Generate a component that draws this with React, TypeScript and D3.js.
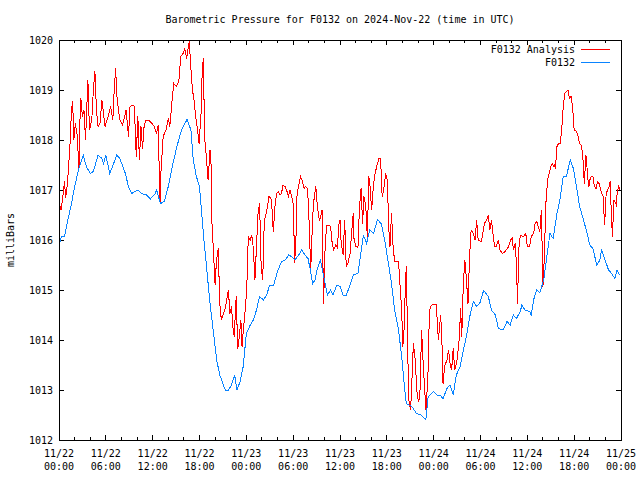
import React from "react";
import * as d3 from "d3";

const title = "Barometric Pressure for F0132 on 2024-Nov-22 (time in UTC)";
const yLabel = "milliBars";
const seriesNames = ["F0132 Analysis", "F0132"];
const seriesColors = ["#ff0000", "#0a84ff"];
const yTicks = [1012, 1013, 1014, 1015, 1016, 1017, 1018, 1019, 1020];
const xTickDates = ["11/22", "11/22", "11/22", "11/22", "11/23", "11/23", "11/23", "11/23", "11/24", "11/24", "11/24", "11/24", "11/25"];
const xTickTimes = ["00:00", "06:00", "12:00", "18:00", "00:00", "06:00", "12:00", "18:00", "00:00", "06:00", "12:00", "18:00", "00:00"];

// [hours since 2024-11-22 00:00 UTC, millibars]
const analysis: [number, number][] = [
  [0, 1016.75], [0.25, 1016.6], [0.4, 1016.75], [0.55, 1016.95], [0.7, 1017.17], [0.85, 1016.85], [1.0, 1017.0], [1.2, 1017.4], [1.4, 1017.87], [1.6, 1018.6], [1.75, 1018.77], [1.9, 1018.0], [2.1, 1018.33], [2.35, 1018.07], [2.55, 1017.4], [2.7, 1018.47], [2.8, 1018.83], [3.0, 1018.47], [3.2, 1018.6], [3.4, 1018.0], [3.7, 1019.2], [3.9, 1018.2], [4.2, 1018.4], [4.4, 1019.0], [4.6, 1019.37], [4.8, 1018.6], [5.0, 1018.27], [5.25, 1018.33], [5.5, 1018.8], [5.9, 1018.27], [6.3, 1018.47], [6.6, 1018.67], [6.9, 1018.4], [7.0, 1018.8], [7.25, 1019.43], [7.45, 1018.8], [7.8, 1018.4], [8.15, 1018.3], [8.6, 1018.6], [8.9, 1018.07], [9.1, 1018.67], [9.45, 1018.7], [9.65, 1018.67], [9.9, 1017.67], [10.1, 1018.47], [10.3, 1017.6], [10.5, 1018.27], [10.7, 1017.83], [10.9, 1018.27], [11.15, 1018.4], [11.45, 1018.4], [11.9, 1018.33], [12.2, 1018.27], [12.5, 1018.13], [12.7, 1018.3], [12.95, 1016.73], [13.05, 1017.33], [13.35, 1018.07], [13.7, 1018.2], [14.0, 1018.43], [14.2, 1018.27], [14.55, 1018.9], [14.7, 1019.13], [15.05, 1019.07], [15.35, 1019.17], [15.6, 1019.67], [15.9, 1019.73], [16.1, 1019.83], [16.35, 1019.63], [16.5, 1019.8], [16.7, 1019.97], [16.85, 1019.53], [17.1, 1019.0], [17.3, 1018.8], [17.5, 1018.47], [17.75, 1018.2], [17.95, 1017.93], [18.2, 1018.53], [18.35, 1019.4], [18.5, 1019.63], [18.65, 1018.07], [18.8, 1017.8], [19.0, 1017.4], [19.1, 1017.2], [19.35, 1017.8], [19.5, 1017.47], [19.6, 1016.33], [19.8, 1015.73], [20.0, 1015.1], [20.15, 1015.53], [20.3, 1015.73], [20.4, 1015.83], [20.6, 1014.73], [20.8, 1014.4], [21.0, 1014.5], [21.3, 1014.63], [21.6, 1014.9], [21.7, 1015.0], [21.9, 1014.53], [22.1, 1014.67], [22.3, 1014.23], [22.45, 1014.07], [22.7, 1014.87], [22.9, 1013.83], [23.1, 1014.07], [23.3, 1014.4], [23.45, 1013.87], [23.6, 1014.17], [23.8, 1014.5], [24.05, 1015.0], [24.25, 1016.07], [24.5, 1016.0], [24.7, 1016.1], [24.9, 1015.83], [25.1, 1015.2], [25.3, 1015.87], [25.5, 1016.53], [25.7, 1016.73], [25.9, 1015.47], [26.1, 1015.2], [26.3, 1016.4], [26.5, 1016.5], [26.7, 1016.67], [26.9, 1016.87], [27.15, 1016.83], [27.3, 1016.6], [27.45, 1016.17], [27.7, 1016.73], [27.9, 1016.93], [28.1, 1016.97], [28.3, 1016.9], [28.5, 1016.93], [28.7, 1017.1], [28.95, 1017.07], [29.15, 1017.0], [29.4, 1016.87], [29.6, 1017.0], [29.8, 1016.87], [30.0, 1016.73], [30.2, 1015.55], [30.4, 1016.2], [30.5, 1016.93], [30.75, 1017.13], [30.95, 1017.27], [31.2, 1017.17], [31.4, 1017.03], [31.6, 1017.07], [31.85, 1017.03], [32.05, 1016.33], [32.25, 1015.4], [32.5, 1016.47], [32.7, 1016.87], [32.9, 1017.07], [33.1, 1016.67], [33.35, 1016.4], [33.5, 1016.45], [33.7, 1016.6], [33.9, 1014.73], [34.1, 1015.9], [34.3, 1016.3], [34.6, 1016.3], [34.8, 1016.27], [35.0, 1015.93], [35.2, 1015.8], [35.45, 1015.9], [35.65, 1015.85], [35.9, 1016.37], [36.0, 1016.4], [36.15, 1015.93], [36.4, 1015.7], [36.6, 1016.4], [36.8, 1015.47], [37.0, 1015.53], [37.3, 1015.73], [37.5, 1016.17], [37.7, 1016.53], [37.8, 1016.0], [38.05, 1015.87], [38.3, 1015.85], [38.5, 1016.67], [38.7, 1017.03], [38.9, 1016.33], [39.06, 1016.87], [39.3, 1016.67], [39.5, 1016.07], [39.7, 1017.27], [39.85, 1017.07], [40.05, 1016.6], [40.3, 1017.13], [40.5, 1017.33], [40.7, 1017.47], [41.0, 1017.63], [41.2, 1017.63], [41.4, 1016.87], [41.6, 1017.0], [41.85, 1017.33], [42.05, 1017.2], [42.3, 1016.07], [42.4, 1015.87], [42.6, 1016.53], [42.8, 1015.87], [43.0, 1015.57], [43.5, 1015.57], [43.7, 1015.07], [43.9, 1014.6], [44.05, 1013.87], [44.2, 1014.2], [44.4, 1015.2], [44.5, 1015.47], [44.7, 1013.6], [44.85, 1012.73], [45.05, 1012.6], [45.2, 1013.13], [45.4, 1013.93], [45.6, 1013.67], [45.75, 1013.27], [45.9, 1012.87], [46.1, 1012.77], [46.25, 1013.0], [46.45, 1014.2], [46.7, 1013.4], [46.9, 1012.87], [47.0, 1012.6], [47.25, 1013.2], [47.4, 1014.2], [47.55, 1014.67], [48.0, 1014.72], [48.3, 1014.72], [48.4, 1014.53], [48.6, 1014.0], [48.8, 1014.33], [48.9, 1014.5], [49.1, 1013.8], [49.2, 1013.13], [49.4, 1013.47], [49.7, 1013.6], [49.9, 1013.8], [50.1, 1013.53], [50.3, 1013.4], [50.5, 1013.83], [50.7, 1013.4], [51.0, 1013.6], [51.3, 1014.07], [51.45, 1014.63], [51.6, 1014.07], [51.8, 1015.13], [52.0, 1015.6], [52.2, 1015.2], [52.4, 1014.73], [52.6, 1015.67], [52.8, 1016.2], [53.1, 1016.13], [53.3, 1016.0], [53.5, 1016.4], [53.7, 1016.0], [53.9, 1015.98], [54.1, 1015.97], [54.3, 1016.13], [54.5, 1016.33], [54.8, 1016.4], [55.0, 1016.5], [55.2, 1016.2], [55.4, 1016.4], [55.6, 1016.13], [55.8, 1015.87], [56.0, 1015.87], [56.3, 1016.0], [56.5, 1015.8], [56.8, 1015.73], [57.0, 1015.75], [57.3, 1015.8], [57.6, 1015.87], [57.85, 1016.0], [58.1, 1016.05], [58.2, 1015.8], [58.45, 1015.93], [58.6, 1015.53], [58.75, 1014.73], [58.9, 1015.8], [59.1, 1016.1], [59.5, 1016.07], [59.8, 1016.13], [60.0, 1015.87], [60.3, 1015.87], [60.5, 1016.07], [60.8, 1016.13], [61.0, 1016.33], [61.2, 1016.37], [61.4, 1016.27], [61.6, 1016.17], [61.8, 1016.6], [62.0, 1015.07], [62.1, 1015.33], [62.4, 1016.8], [62.6, 1017.2], [62.8, 1017.33], [63.0, 1017.47], [63.2, 1017.53], [63.4, 1017.47], [63.5, 1017.5], [63.6, 1017.43], [63.8, 1017.87], [64.0, 1017.93], [64.2, 1017.93], [64.4, 1018.2], [64.6, 1018.67], [64.8, 1018.93], [65.0, 1018.97], [65.2, 1019.0], [65.4, 1018.83], [65.6, 1018.87], [65.8, 1018.67], [66.0, 1018.2], [66.3, 1018.17], [66.5, 1018.07], [66.7, 1017.93], [66.9, 1017.9], [67.1, 1017.7], [67.3, 1017.13], [67.5, 1017.7], [67.6, 1017.6], [67.7, 1017.27], [67.9, 1017.07], [68.0, 1017.2], [68.2, 1017.27], [68.4, 1017.27], [68.6, 1017.07], [68.8, 1017.03], [69.0, 1017.17], [69.2, 1017.13], [69.4, 1017.0], [69.7, 1016.87], [69.8, 1016.6], [69.9, 1016.3], [70.1, 1016.93], [70.3, 1017.0], [70.5, 1017.07], [70.6, 1017.17], [70.8, 1016.4], [70.9, 1016.07], [71.1, 1016.8], [71.4, 1016.7], [71.5, 1016.93], [71.7, 1017.07], [71.85, 1017.0],
];

const observed: [number, number][] = [
  [0, 1015.87], [0.3, 1016.07], [0.7, 1016.07], [1.0, 1016.3], [1.6, 1016.73], [2.0, 1017.07], [2.5, 1017.4], [3.1, 1017.7], [3.5, 1017.47], [4.0, 1017.33], [4.4, 1017.37], [5.0, 1017.7], [5.5, 1017.63], [5.7, 1017.53], [6.0, 1017.7], [6.5, 1017.33], [7.0, 1017.53], [7.4, 1017.7], [7.8, 1017.63], [8.5, 1017.33], [8.9, 1017.07], [9.3, 1016.93], [10.1, 1017.0], [10.6, 1016.93], [11.2, 1016.9], [11.7, 1016.82], [12.3, 1016.92], [12.5, 1017.0], [13.0, 1016.73], [13.5, 1016.77], [14.0, 1017.07], [14.6, 1017.53], [15.1, 1017.87], [15.7, 1018.2], [16.4, 1018.41], [16.9, 1018.2], [17.2, 1017.6], [17.6, 1017.27], [18.0, 1017.07], [18.3, 1016.5], [18.6, 1015.95], [18.9, 1015.47], [19.3, 1014.8], [19.8, 1014.13], [20.2, 1013.6], [20.6, 1013.3], [21.3, 1013.0], [21.7, 1013.0], [22.1, 1013.1], [22.5, 1013.3], [22.8, 1013.0], [23.2, 1013.17], [23.6, 1013.47], [24.0, 1014.13], [24.5, 1014.3], [24.9, 1014.4], [25.3, 1014.6], [25.7, 1014.87], [26.2, 1014.8], [26.6, 1014.9], [27.0, 1015.1], [27.5, 1015.1], [28.0, 1015.37], [28.5, 1015.57], [29.0, 1015.6], [29.4, 1015.7], [29.8, 1015.67], [30.2, 1015.6], [30.7, 1015.7], [31.1, 1015.8], [31.5, 1015.7], [31.9, 1015.63], [32.2, 1015.4], [32.5, 1015.13], [32.8, 1015.2], [33.1, 1015.43], [33.5, 1015.6], [33.9, 1015.27], [34.4, 1014.9], [34.8, 1015.0], [35.1, 1014.9], [35.6, 1015.1], [36.0, 1015.07], [36.4, 1014.9], [36.8, 1014.9], [37.3, 1015.1], [37.7, 1015.3], [38.3, 1015.33], [38.6, 1015.67], [39.0, 1016.1], [39.4, 1015.93], [39.8, 1016.2], [40.3, 1016.13], [40.8, 1016.41], [41.3, 1016.32], [41.8, 1015.93], [42.2, 1015.53], [42.6, 1015.13], [43.0, 1014.6], [43.5, 1014.2], [43.9, 1013.67], [44.3, 1013.0], [44.5, 1012.73], [45.2, 1012.67], [45.8, 1012.53], [46.4, 1012.5], [47.0, 1012.4], [47.3, 1012.87], [48.0, 1012.97], [48.4, 1012.9], [48.8, 1012.9], [49.2, 1012.83], [49.7, 1013.03], [50.1, 1013.1], [50.5, 1012.9], [50.9, 1013.3], [51.4, 1013.47], [51.8, 1013.8], [52.2, 1014.07], [52.7, 1014.53], [53.1, 1014.77], [53.5, 1014.67], [53.9, 1014.73], [54.4, 1014.99], [55.0, 1014.87], [55.4, 1014.6], [55.9, 1014.5], [56.3, 1014.23], [56.9, 1014.2], [57.4, 1014.37], [57.8, 1014.3], [58.2, 1014.5], [58.6, 1014.43], [59.1, 1014.57], [59.3, 1014.7], [59.7, 1014.6], [60.3, 1014.57], [60.5, 1014.5], [60.8, 1014.8], [61.2, 1015.0], [61.6, 1014.95], [62.1, 1015.2], [62.5, 1015.67], [62.9, 1016.13], [63.3, 1016.03], [63.8, 1016.53], [64.2, 1016.83], [64.6, 1017.27], [65.0, 1017.27], [65.5, 1017.6], [65.9, 1017.43], [66.3, 1017.07], [66.7, 1016.67], [67.2, 1016.4], [67.6, 1016.17], [68.0, 1015.9], [68.4, 1015.83], [68.9, 1015.5], [69.3, 1015.6], [69.5, 1015.8], [69.9, 1015.63], [70.4, 1015.4], [70.8, 1015.33], [71.2, 1015.23], [71.5, 1015.4], [71.8, 1015.3],
];

const W = 640;
const H = 480;
const M = { left: 59, right: 621, top: 40, bottom: 440 };
const FONT = "'DejaVu Sans Mono', 'Liberation Mono', monospace";

export default function App() {
  const start = new Date(Date.UTC(2024, 10, 22, 0, 0));
  const end = new Date(Date.UTC(2024, 10, 25, 0, 0));
  const x = d3.scaleUtc().domain([start, end]).range([M.left, M.right]);
  const y = d3.scaleLinear().domain([1012, 1020]).range([M.bottom, M.top]);
  const toDate = (h: number) => new Date(start.getTime() + h * 3600 * 1000);

  const line = d3
    .line<[number, number]>()
    .x((d) => x(toDate(d[0])))
    .y((d) => y(d[1]));

  const majorX = d3.utcHour.every(6)!.range(start, d3.utcHour.offset(end, 1));
  const minorX = d3.utcHour.every(2)!.range(start, end).filter((d) => d.getUTCHours() % 6 !== 0);

  const series = [analysis, observed];

  return (
    <svg width={W} height={H} style={{ display: "block", position: "absolute", left: 0, top: 0, background: "#fff" }} fontFamily={FONT} fontSize={10}>
      <rect x={0} y={0} width={W} height={H} fill="#fff" />
      <text x={340} y={23} textAnchor="middle" fill="#000">{title}</text>
      <text transform={`translate(14,240) rotate(-90)`} textAnchor="middle" fill="#000">{yLabel}</text>

      <g shapeRendering="crispEdges" stroke="#000" strokeWidth={1}>
        {yTicks.map((t) => (
          <g key={`y${t}`}>
            <line x1={M.left} x2={M.left + 5} y1={y(t)} y2={y(t)} />
            <line x1={M.right} x2={M.right - 5} y1={y(t)} y2={y(t)} />
          </g>
        ))}
        {majorX.map((d, i) => (
          <g key={`xm${i}`}>
            <line x1={x(d)} x2={x(d)} y1={M.bottom} y2={M.bottom - 5} />
            <line x1={x(d)} x2={x(d)} y1={M.top} y2={M.top + 5} />
          </g>
        ))}
        {minorX.map((d, i) => (
          <g key={`xn${i}`}>
            <line x1={x(d)} x2={x(d)} y1={M.bottom} y2={M.bottom - 3} />
            <line x1={x(d)} x2={x(d)} y1={M.top} y2={M.top + 3} />
          </g>
        ))}
      </g>

      {yTicks.map((t) => (
        <text key={`yl${t}`} x={M.left - 6} y={y(t)} dy="0.35em" textAnchor="end" fill="#000">{t}</text>
      ))}
      {majorX.map((d, i) => (
        <text key={`xl${i}`} x={x(d)} y={M.bottom + 17} textAnchor="middle" fill="#000">
          <tspan x={x(d)}>{xTickDates[i]}</tspan>
          <tspan x={x(d)} dy={13}>{xTickTimes[i]}</tspan>
        </text>
      ))}

      <g fill="none" strokeWidth={1} shapeRendering="crispEdges">
        {series.map((s, i) => (
          <path key={`s${i}`} d={line(s) || ""} stroke={seriesColors[i]} />
        ))}
      </g>

      <rect x={M.left} y={M.top} width={M.right - M.left} height={M.bottom - M.top} fill="none" stroke="#000" strokeWidth={1} shapeRendering="crispEdges" />

      {seriesNames.map((n, i) => (
        <g key={`lg${i}`}>
          <text x={575} y={49 + i * 13} dy="0.35em" textAnchor="end" fill="#000">{n}</text>
          <line x1={581} x2={610} y1={49 + i * 13} y2={49 + i * 13} stroke={seriesColors[i]} shapeRendering="crispEdges" />
        </g>
      ))}
    </svg>
  );
}
